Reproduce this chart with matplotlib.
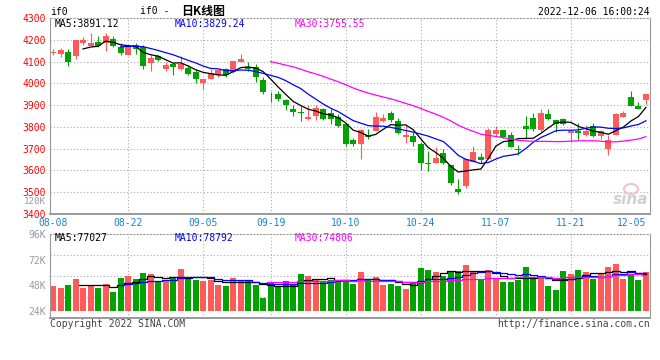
import matplotlib
matplotlib.use("Agg")
import matplotlib.pyplot as plt
from matplotlib.patches import Ellipse
import numpy as np
import pandas as pd

plt.rcParams['font.family'] = ['DejaVu Sans Mono', 'Noto Sans CJK SC']

# data
tick_pos = [0, 10, 20, 29, 39, 49, 59, 69, 79]
tick_lbl = ['08-08', '08-22', '09-05', '09-19', '10-10', '10-24', '11-07', '11-21', '12-05']

opens = [4141, 4136, 4144, 4127, 4186, 4172, 4192, 4186, 4203, 4169,
         4131, 4174, 4166, 4095, 4124, 4066, 4089, 4068, 4071, 4054,
         4001, 4021, 4036, 4066, 4051, 4098, 4074, 4074, 4016, 3934,
         3952, 3925, 3880, 3868, 3834, 3848, 3880, 3865, 3847, 3811,
         3740, 3720, 3764, 3781, 3827, 3862, 3825, 3753, 3758, 3722,
         3635, 3632, 3682, 3625, 3514, 3528, 3640, 3662, 3652, 3766,
         3786, 3763, 3698, 3802, 3841, 3784, 3857, 3830, 3836, 3773,
         3781, 3761, 3802, 3758, 3698, 3764, 3844, 3935, 3898, 3923]
closes = [4143, 4153, 4099, 4198, 4197, 4185, 4172, 4217, 4172, 4139,
          4165, 4156, 4081, 4116, 4108, 4082, 4077, 4089, 4044, 4021,
          4021, 4047, 4060, 4037, 4103, 4112, 4066, 4031, 3958, 3931,
          3929, 3899, 3868, 3865, 3844, 3888, 3837, 3837, 3804, 3723,
          3723, 3784, 3753, 3844, 3840, 3831, 3770, 3761, 3732, 3632,
          3629, 3657, 3632, 3543, 3503, 3652, 3685, 3649, 3786, 3786,
          3755, 3709, 3695, 3791, 3790, 3866, 3836, 3811, 3811, 3781,
          3773, 3781, 3758, 3781, 3738, 3857, 3862, 3898, 3882, 3949]
highs = [4159, 4162, 4157, 4200, 4211, 4231, 4217, 4231, 4217, 4185,
         4177, 4185, 4174, 4128, 4131, 4096, 4092, 4127, 4085, 4059,
         4021, 4067, 4063, 4069, 4103, 4135, 4097, 4089, 4027, 3960,
         3966, 3930, 3902, 3898, 3902, 3902, 3886, 3880, 3860, 3815,
         3749, 3789, 3789, 3868, 3857, 3871, 3840, 3810, 3778, 3732,
         3689, 3709, 3698, 3625, 3563, 3652, 3712, 3678, 3797, 3805,
         3786, 3778, 3717, 3851, 3863, 3880, 3880, 3830, 3842, 3781,
         3819, 3807, 3819, 3784, 3761, 3865, 3874, 3967, 3914, 3953]
lows = [4131, 4122, 4081, 4113, 4174, 4172, 4165, 4150, 4165, 4131,
        4128, 4134, 4067, 4058, 4101, 4058, 4036, 4062, 4036, 4001,
        3976, 4021, 4031, 4031, 4047, 4098, 4057, 4004, 3952, 3913,
        3917, 3879, 3850, 3825, 3831, 3831, 3831, 3813, 3801, 3712,
        3712, 3654, 3746, 3781, 3822, 3822, 3766, 3726, 3712, 3602,
        3598, 3632, 3629, 3532, 3491, 3520, 3640, 3632, 3652, 3758,
        3751, 3709, 3672, 3745, 3782, 3776, 3831, 3776, 3808, 3731,
        3738, 3758, 3753, 3746, 3669, 3761, 3844, 3898, 3882, 3905]
# volume in K (top of bar, axis base 24K)
vols = [46.7, 45.7, 48.2, 53.9, 45.7, 48.2, 45.7, 49.2, 41.9, 54.8,
        56.1, 53.9, 59.8, 58.6, 51.4, 52.0, 54.8, 63.3, 53.9, 52.9,
        52.0, 52.9, 48.2, 46.7, 54.8, 52.0, 52.0, 48.2, 36.3, 50.1,
        47.3, 52.0, 49.2, 58.6, 56.7, 52.9, 51.1, 52.9, 52.0, 52.9,
        49.2, 60.5, 52.9, 55.4, 47.9, 49.2, 47.3, 44.1, 51.1, 64.2,
        62.4, 60.5, 56.7, 61.1, 61.1, 67.1, 61.4, 53.9, 62.4, 53.9,
        51.1, 51.1, 52.9, 65.2, 53.9, 56.1, 47.3, 43.5, 61.4, 58.6,
        62.4, 60.5, 53.9, 59.5, 65.2, 68.0, 53.9, 58.6, 52.9, 60.5]

price_ticks = [3400, 3500, 3600, 3700, 3800, 3900, 4000, 4100, 4200, 4300]
vol_ticks = [24, 48, 72, 96]

RED = '#ff5a5a'
GREEN = '#00a300'
GRID = '#aaaaaa'
BLUE_TXT = '#1a80d0'
W, H = 660, 360
FS = 7.0


def fx(px):
    return px / W


def fy(py):
    return 1 - py / H


fig = plt.figure(figsize=(6.6, 3.6), dpi=100)
axp = fig.add_axes([fx(50), fy(214), 600 / W, 196 / H])
axv = fig.add_axes([fx(50), fy(318), 600 / W, 84 / H])

o = np.array(opens)
c = np.array(closes)
x = np.arange(len(o))
col = np.where(c >= o, RED, GREEN)
xlim = (-0.4, 79.54)

# candles
axp.vlines(x, lows, highs, colors=col, lw=0.8)
axp.bar(x, np.maximum(np.abs(c - o), 1.5), bottom=np.minimum(o, c),
        width=0.8, color=col, lw=0)
cs = pd.Series(closes)
axp.plot(x, cs.rolling(5).mean(), color='black', lw=0.9)
axp.plot(x, cs.rolling(10).mean(), color='#0000ff', lw=0.9)
axp.plot(x, cs.rolling(30).mean(), color='#ff00ff', lw=0.9)

axp.set_xlim(*xlim)
axp.set_ylim(3400, 4300)
axp.set_yticks(price_ticks)
axp.set_yticklabels([str(t) for t in price_ticks])
axp.tick_params(axis='y', length=0, pad=3, colors='#ff0000', labelsize=FS)
axp.set_xticks(tick_pos)
axp.set_xticklabels(tick_lbl)
axp.tick_params(axis='x', length=0, pad=3, colors=BLUE_TXT, labelsize=FS)
axp.get_xticklabels()[-1].set_ha('right')
for t in price_ticks[1:-1]:
    axp.axhline(t, color=GRID, lw=0.8, ls=(0, (1, 2)), zorder=0)
for t in tick_pos[1:-1]:
    axp.axvline(t, color=GRID, lw=0.8, ls=(0, (1, 2)), zorder=0)

# volume
vs = pd.Series(vols)
axv.bar(x, np.array(vols) - 24, bottom=24, width=0.8, color=col, lw=0)
axv.plot(x, vs.rolling(5).mean(), drawstyle='steps-mid', color='black', lw=0.9)
axv.plot(x, vs.rolling(10).mean(), drawstyle='steps-mid', color='#0000ff', lw=0.9)
axv.plot(x, vs.rolling(30).mean(), drawstyle='steps-mid', color='#ff00ff', lw=0.9)
axv.set_xlim(*xlim)
vlo, vhi = 17.1, 96
axv.set_ylim(vlo, vhi)
axv.set_yticks(vol_ticks)
axv.set_yticklabels([f'{t}K' for t in vol_ticks])
axv.tick_params(axis='y', length=0, pad=3, colors='#999999', labelsize=FS)
axv.set_xticks([])
for f in (0.25, 0.5, 0.75):
    axv.axhline(vlo + f * (vhi - vlo), color=GRID, lw=0.8, ls=(0, (1, 2)), zorder=0)
for t in tick_pos[1:-1]:
    axv.axvline(t, color=GRID, lw=0.8, ls=(0, (1, 2)), zorder=0)

for ax in (axp, axv):
    for s in ('left', 'right'):
        ax.spines[s].set_color('#999999')
        ax.spines[s].set_linewidth(0.8)
    ax.spines['top'].set_color('#999999')
    ax.spines['top'].set_linestyle((0, (1, 2)))
    ax.spines['top'].set_linewidth(0.8)
    ax.spines['bottom'].set_color('#999999')
    ax.spines['bottom'].set_linewidth(1.4)

# texts
fig.text(fx(50), fy(12), 'if0', fontsize=FS, va='center')
fig.text(fx(140), fy(11), 'if0 -', fontsize=FS, va='center')
fig.text(fx(181), fy(11), '日K线图', fontsize=8.6, va='center',
         family=['Noto Sans CJK SC'], weight='bold')
fig.text(fx(650), fy(12), '2022-12-06 16:00:24', fontsize=FS, va='center', ha='right')
fig.text(fx(55), fy(24), 'MA5:3891.12', fontsize=FS, va='center', color='black')
fig.text(fx(175), fy(24), 'MA10:3829.24', fontsize=FS, va='center', color='#0000ff')
fig.text(fx(295), fy(24), 'MA30:3755.55', fontsize=FS, va='center', color='#ff00ff')
fig.text(fx(46), fy(202), '120K', fontsize=6.6, va='center', ha='right', color='#999999')
fig.text(fx(55), fy(238), 'MA5:77027', fontsize=FS, va='center', color='black')
fig.text(fx(175), fy(238), 'MA10:78792', fontsize=FS, va='center', color='#0000ff')
fig.text(fx(295), fy(238), 'MA30:74806', fontsize=FS, va='center', color='#ff00ff')
fig.text(fx(50), fy(324), 'Copyright 2022 SINA.COM', fontsize=FS, va='center', color='#444444')
fig.text(fx(650), fy(324), 'http://finance.sina.com.cn', fontsize=FS, va='center',
         ha='right', color='#444444')
fig.text(fx(648), fy(200), 'sina', fontsize=11, va='center', ha='right',
         color='#d0d0d0', style='italic', weight='bold', family=['DejaVu Sans'])
fig.patches.append(Ellipse((fx(631), fy(189)), 14 / W, 10 / H, transform=fig.transFigure,
                           facecolor='none', edgecolor='#f3c4c4', lw=1.5))

fig.savefig('out.png', dpi=100)
